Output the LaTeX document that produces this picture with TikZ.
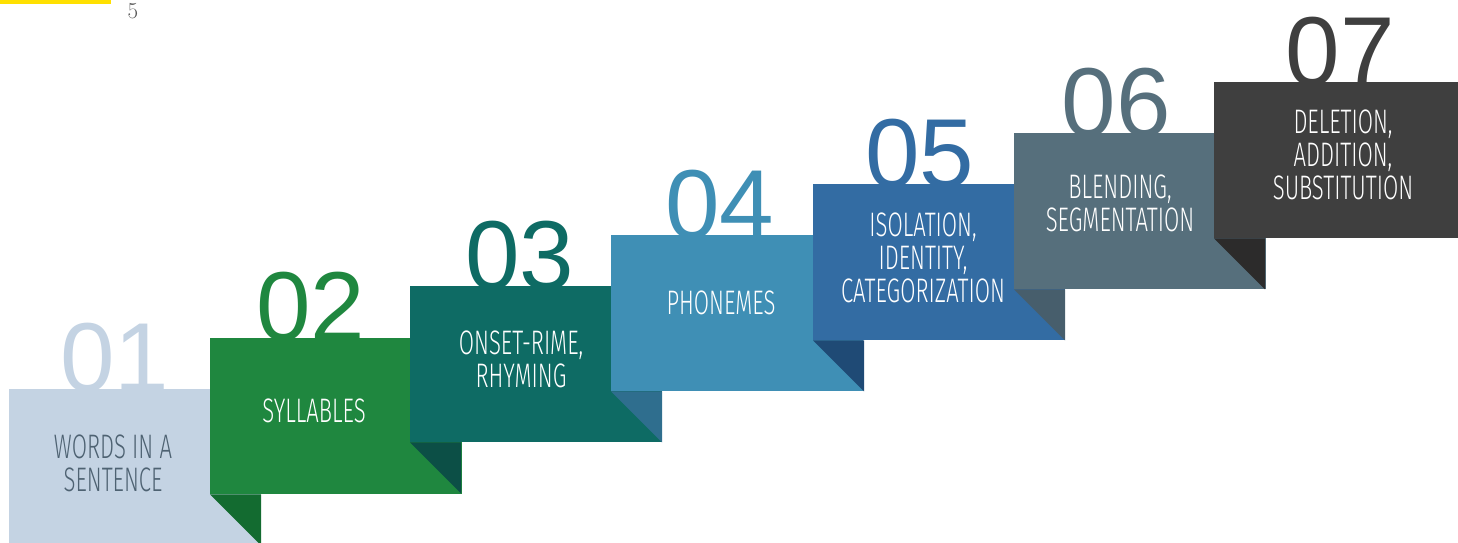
\documentclass[tikz,border=0pt]{standalone}
\usepackage{fontspec}
\newfontfamily\stepfont{Fira Sans Light}[FakeStretch=0.65]
\newfontfamily\numfont{Liberation Sans}
\usetikzlibrary{positioning,calc}

\definecolor{stepa}{HTML}{C4D3E3}
\definecolor{stepatext}{HTML}{4E6272}
\definecolor{stepb}{HTML}{1F873F}
\definecolor{stepbdark}{HTML}{136B30}
\definecolor{stepc}{HTML}{0E6B64}
\definecolor{stepcdark}{HTML}{0C4F46}
\definecolor{stepd}{HTML}{3F8FB5}
\definecolor{stepddark}{HTML}{2F6E8E}
\definecolor{stepe}{HTML}{336CA3}
\definecolor{stepedark}{HTML}{1F4A75}
\definecolor{stepf}{HTML}{566F7C}
\definecolor{stepfdark}{HTML}{475E6C}
\definecolor{stepg}{HTML}{3F3F3F}
\definecolor{stepgdark}{HTML}{2C2B2B}
\definecolor{pagebar}{HTML}{FFE000}

\tikzset{
    stepbox/.style={rectangle,anchor=north west,minimum width=252pt,minimum height=156pt,inner sep=0pt},
    steptext/.style={align=center,text=white,inner sep=0pt,font=\stepfont\fontsize{34}{33}\selectfont},
    stepnum/.style={anchor=base,inner sep=0pt,font=\numfont\fontsize{98}{98}\selectfont},
}

\begin{document}
\begin{tikzpicture}[x=1pt,y=-1pt]
        \useasboundingbox (0,0) rectangle (1458,542);

        % page corner
        \fill[pagebar] (0,0) rectangle (111,4);
        \node[anchor=base,inner sep=0pt,text=black!65,font=\fontsize{23}{23}\selectfont] (pageno) at (133,18) {5};

        \node[stepnum,text=stepa] (num1) at (115,391) {01};
        \node[stepbox,fill=stepa] (box1) at (9,389) {};
        \node[steptext,text=stepatext] (text1) at ($(box1.north west)+(104,74)$) {WORDS IN A\\SENTENCE};

        \node[stepnum,text=stepb] (num2) at (311,340) {02};
        \node[stepbox,fill=stepb] (box2) at (210,338) {};
        \fill[stepbdark] (box2.south west) -- ++(51,0) -- ++(0,51) -- cycle;
        \node[steptext] (text2) at ($(box2.north west)+(104,73)$) {SYLLABLES};

        \node[stepnum,text=stepc] (num3) at (520,289) {03};
        \node[stepbox,fill=stepc] (box3) at (410,286) {};
        \fill[stepcdark] (box3.south west) -- ++(51,0) -- ++(0,51) -- cycle;
        \node[steptext] (text3) at ($(box3.north west)+(111,73)$) {ONSET-RIME,\\RHYMING};

        \node[stepnum,text=stepd] (num4) at (720,238) {04};
        \node[stepbox,fill=stepd] (box4) at (611,235) {};
        \fill[stepddark] (box4.south west) -- ++(51,0) -- ++(0,51) -- cycle;
        \node[steptext] (text4) at ($(box4.north west)+(110,68)$) {PHONEMES};

        \node[stepnum,text=stepe] (num5) at (920,187) {05};
        \node[stepbox,fill=stepe] (box5) at (813,184) {};
        \fill[stepedark] (box5.south west) -- ++(51,0) -- ++(0,51) -- cycle;
        \node[steptext] (text5) at ($(box5.north west)+(110,74)$) {ISOLATION,\\IDENTITY,\\CATEGORIZATION};

        \node[stepnum,text=stepf] (num6) at (1116,136) {06};
        \node[stepbox,fill=stepf] (box6) at (1014,133) {};
        \fill[stepfdark] (box6.south west) -- ++(51,0) -- ++(0,51) -- cycle;
        \node[steptext] (text6) at ($(box6.north west)+(106,70)$) {BLENDING,\\SEGMENTATION};

        \node[stepnum,text=stepg] (num7) at (1340,85) {07};
        \node[stepbox,fill=stepg] (box7) at (1214,82) {};
        \fill[stepgdark] (box7.south west) -- ++(51,0) -- ++(0,51) -- cycle;
        \node[steptext] (text7) at ($(box7.north west)+(129,73)$) {DELETION,\\ADDITION,\\SUBSTITUTION};
\end{tikzpicture}
\end{document}
